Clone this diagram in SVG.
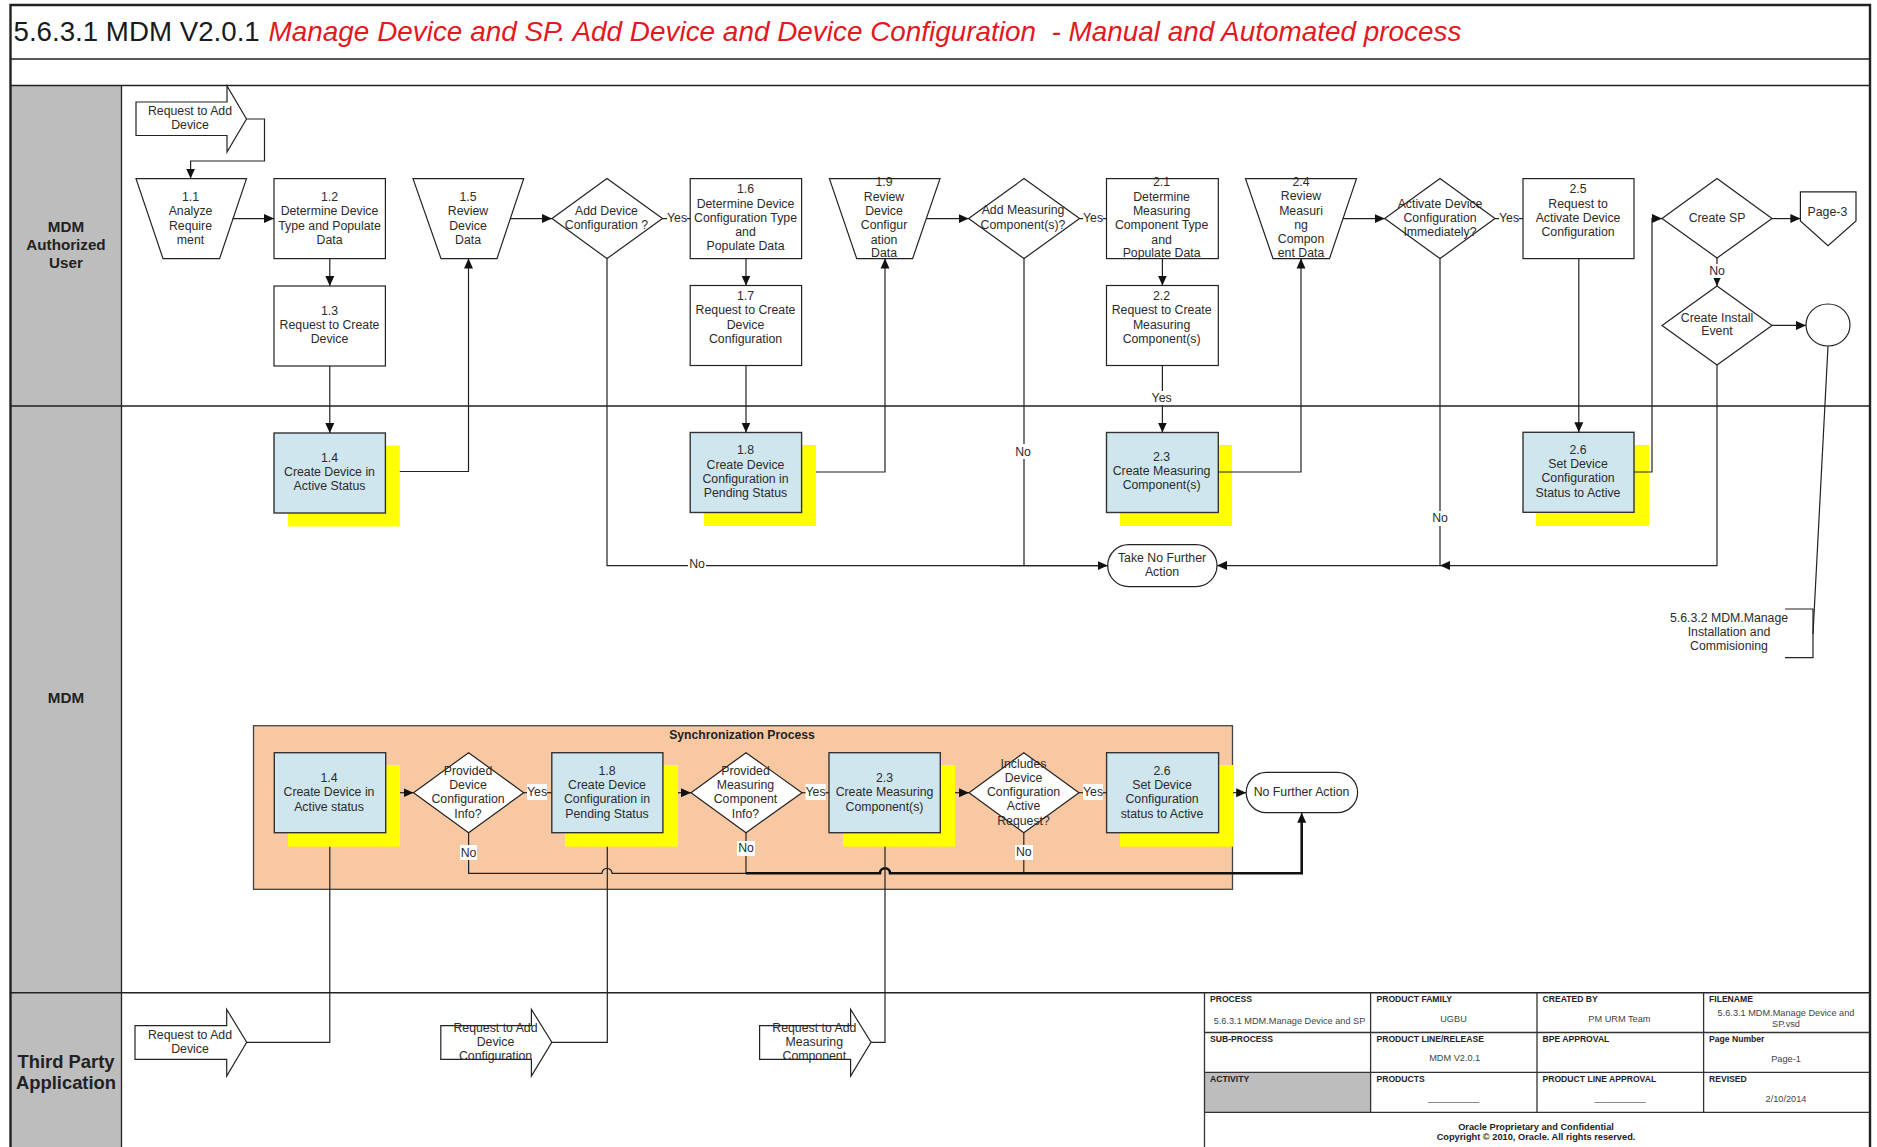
<svg xmlns="http://www.w3.org/2000/svg" width="1877" height="1147" viewBox="0 0 1877 1147">
<style>
text{font-family:"Liberation Sans",Arial,sans-serif;fill:#2b2b2b;font-size:12.3px;text-anchor:middle}
.b{fill:#fff;stroke:#222;stroke-width:1.2}
.act{fill:#cfe6ee;stroke:#333;stroke-width:1.4}
.sh{fill:#ff0;stroke:none}
.c{fill:none;stroke:#222;stroke-width:1.2}
.a{marker-end:url(#ah)}
.t{stroke-width:2.6;stroke:#111}
.lane{fill:#bdbdbd;stroke:none}
.bl{font-weight:bold;font-size:15.2px;fill:#222}
.tb{font-weight:bold;font-size:8.6px;text-anchor:start;fill:#222}
.tv{font-size:9.2px;fill:#444}
.tc{font-weight:bold;font-size:9.25px;fill:#222}
.lb{fill:#fff;stroke:none}
.g{stroke:#222;stroke-width:1.3;fill:none}
</style>
<defs>
<marker id="ah" markerUnits="userSpaceOnUse" markerWidth="11" markerHeight="10" refX="10" refY="5" orient="auto"><path d="M0,0.5 L10,5 L0,9.5 Z" fill="#111"/></marker>
</defs>
<rect width="1877" height="1147" fill="#fff"/>
<g id="frame">
<rect class="lane" x="10.5" y="85.5" width="111" height="1062"/>
<path class="g" d="M121.5,85.5V1147"/>
<path class="g" style="stroke-width:1.6" d="M10.5,59H1870M10.5,85.5H1870M10.5,406H1870M10.5,992.7H1870"/>
<path class="g" style="stroke-width:2.4" d="M10.5,1147V5H1870V1147"/>
<text id="title" x="13.5" y="40.5" xml:space="preserve" style="font-size:27.7px;text-anchor:start;fill:#1a1a1a">5.6.3.1 MDM V2.0.1<tspan x="268.6" style="font-style:italic;fill:#e2191f;font-size:27.9px">Manage Device and SP. Add Device and Device Configuration  - Manual and Automated process</tspan></text>
<text class="bl" x="66" y="232">MDM</text><text class="bl" x="66" y="250">Authorized</text><text class="bl" x="66" y="268">User</text>
<text class="bl" x="66" y="703">MDM</text>
<text class="bl" style="font-size:18.4px" x="66" y="1068">Third Party</text><text class="bl" style="font-size:18.4px" x="66" y="1088.5">Application</text>
</g>
<g id="sync-box">
<rect x="253.5" y="725.7" width="979" height="163.6" fill="#f8c8a2" stroke="#444" stroke-width="1.3"/>
<text x="742" y="739" style="font-weight:bold;font-size:12.2px;fill:#222">Synchronization Process</text>
</g>
<g id="start-request"><path class="b" d="M136,102H227V86L246.5,119L227,152V135.5H136Z"/><text x="190" y="115">Request to Add</text><text x="190" y="129">Device</text></g>
<g id="n1-1"><path class="b" d="M136,178.6H246.5L219.6,258.6H163Z"/><text x="190.5" y="200.8">1.1</text><text x="190.5" y="215">Analyze</text><text x="190.5" y="229.5">Require</text><text x="190.5" y="244">ment</text></g>
<g id="n1-2"><rect class="b" x="274" y="178.6" width="111.4" height="80"/><text x="329.5" y="200.8">1.2</text><text x="329.5" y="215">Determine Device</text><text x="329.5" y="229.5">Type and Populate</text><text x="329.5" y="244">Data</text></g>
<g id="n1-3"><rect class="b" x="274" y="286" width="111.4" height="80"/><text x="329.5" y="315">1.3</text><text x="329.5" y="329">Request to Create</text><text x="329.5" y="343.3">Device</text></g>
<g id="n1-4"><rect class="sh" x="288" y="445.5" width="111.8" height="81"/><rect class="act" x="274" y="433" width="111.4" height="80"/><text x="329.5" y="462">1.4</text><text x="329.5" y="476">Create Device in</text><text x="329.5" y="490.2">Active Status</text></g>
<g id="n1-5"><path class="b" d="M413,178.6H523.7L497,258.6H441Z"/><text x="468" y="200.8">1.5</text><text x="468" y="215">Review</text><text x="468" y="229.5">Device</text><text x="468" y="244">Data</text></g>
<g id="d-add-config"><path class="b" d="M607,178.6L662.5,218.6L607,258.6L552,218.6Z"/><text x="606.5" y="215">Add Device</text><text x="606.5" y="229">Configuration ?</text></g>
<g id="n1-6"><rect class="b" x="690.2" y="178.6" width="111.4" height="80"/><text x="745.5" y="193.3">1.6</text><text x="745.5" y="208">Determine Device</text><text x="745.5" y="222">Configuration Type</text><text x="745.5" y="236.3">and</text><text x="745.5" y="250.3">Populate Data</text></g>
<g id="n1-7"><rect class="b" x="690.2" y="285.5" width="111.4" height="80"/><text x="745.5" y="299.7">1.7</text><text x="745.5" y="314.3">Request to Create</text><text x="745.5" y="328.8">Device</text><text x="745.5" y="343">Configuration</text></g>
<g id="n1-8"><rect class="sh" x="704" y="445" width="112" height="81"/><rect class="act" x="690.2" y="432.5" width="111.4" height="80"/><text x="745.5" y="454">1.8</text><text x="745.5" y="468.5">Create Device</text><text x="745.5" y="482.7">Configuration in</text><text x="745.5" y="496.8">Pending Status</text></g>
<g id="n1-9"><path class="b" d="M829.4,178.6H940L912.6,258.6H856.7Z"/><text x="884" y="186">1.9</text><text x="884" y="200.6">Review</text><text x="884" y="214.8">Device</text><text x="884" y="229">Configur</text><text x="884" y="243.5">ation</text><text x="884" y="257.3">Data</text></g>
<g id="d-add-measuring"><path class="b" d="M1024,178.6L1079.6,218.6L1024,258.6L968.6,218.6Z"/><text x="1023" y="214.3">Add Measuring</text><text x="1023" y="229">Component(s)?</text></g>
<g id="n2-1"><rect class="b" x="1106.5" y="178.6" width="111.8" height="80"/><text x="1161.6" y="186">2.1</text><text x="1161.6" y="200.6">Determine</text><text x="1161.6" y="214.8">Measuring</text><text x="1161.6" y="229">Component Type</text><text x="1161.6" y="243.5">and</text><text x="1161.6" y="257.3">Populate Data</text></g>
<g id="n2-2"><rect class="b" x="1106.5" y="285.5" width="111.8" height="80"/><text x="1161.6" y="299.7">2.2</text><text x="1161.6" y="314.3">Request to Create</text><text x="1161.6" y="328.8">Measuring</text><text x="1161.6" y="343">Component(s)</text></g>
<g id="n2-3"><rect class="sh" x="1120" y="445" width="112" height="81"/><rect class="act" x="1106.5" y="432.5" width="111.8" height="80"/><text x="1161.6" y="461.3">2.3</text><text x="1161.6" y="475.3">Create Measuring</text><text x="1161.6" y="489.3">Component(s)</text></g>
<g id="n2-4"><path class="b" d="M1245.5,178.6H1356.5L1329.5,258.6H1273Z"/><text x="1301" y="185.8">2.4</text><text x="1301" y="200.3">Review</text><text x="1301" y="214.9">Measuri</text><text x="1301" y="229.1">ng</text><text x="1301" y="243.3">Compon</text><text x="1301" y="257.3">ent Data</text></g>
<g id="d-activate"><path class="b" d="M1440,178.6L1495,218.6L1440,258.6L1384.7,218.6Z"/><text x="1440" y="207.6">Activate Device</text><text x="1440" y="221.8">Configuration</text><text x="1440" y="235.9">Immediately?</text></g>
<g id="n2-5"><rect class="b" x="1523" y="178.6" width="111" height="80"/><text x="1578" y="193.1">2.5</text><text x="1578" y="207.6">Request to</text><text x="1578" y="221.8">Activate Device</text><text x="1578" y="235.9">Configuration</text></g>
<g id="n2-6"><rect class="sh" x="1536" y="445" width="113" height="81"/><rect class="act" x="1523" y="432.3" width="111" height="80"/><text x="1578" y="453.7">2.6</text><text x="1578" y="468.3">Set Device</text><text x="1578" y="482.3">Configuration</text><text x="1578" y="496.9">Status to Active</text></g>
<g id="d-create-sp"><path class="b" d="M1717,178.6L1772,218.6L1717,258L1662,218.6Z"/><text x="1717" y="221.8">Create SP</text></g>
<g id="page-3"><path class="b" d="M1800.4,191.8H1856V221L1828,245.8L1800.4,221Z"/><text x="1827.4" y="215.7">Page-3</text></g>
<g id="d-install"><path class="b" d="M1717,286L1772,325.4L1717,365L1662,325.4Z"/><text x="1717" y="321.7">Create Install</text><text x="1717" y="335.3">Event</text></g>
<g id="connector-circle"><ellipse class="b" cx="1828" cy="325" rx="22" ry="21"/></g>
<g id="annotation"><text x="1729" y="622.1">5.6.3.2 MDM.Manage</text><text x="1729" y="636.3">Installation and</text><text x="1729" y="650.3">Commisioning</text><path class="c" d="M1785,609H1813V657.6H1785"/></g>
<g id="take-no-further"><rect class="b" x="1107.7" y="544.6" width="109.3" height="42" rx="21" ry="21"/><text x="1162" y="561.9">Take No Further</text><text x="1162" y="576.3">Action</text></g>
<g id="s1-4"><rect class="sh" x="288" y="765" width="112" height="81.7"/><rect class="act" x="274.3" y="752.7" width="111.4" height="80"/><text x="329" y="782">1.4</text><text x="329" y="796">Create Device in</text><text x="329" y="810.6">Active status</text></g>
<g id="s-d1"><path class="b" d="M468.6,752.7L523.7,792.7L468.6,832.7L413.5,792.7Z"/><text x="468" y="775">Provided</text><text x="468" y="789">Device</text><text x="468" y="803.3">Configuration</text><text x="468" y="817.6">Info?</text></g>
<g id="s1-8"><rect class="sh" x="565" y="765" width="113" height="81.7"/><rect class="act" x="551.8" y="752.7" width="111.1" height="80"/><text x="607" y="775">1.8</text><text x="607" y="789">Create Device</text><text x="607" y="803.3">Configuration in</text><text x="607" y="817.6">Pending Status</text></g>
<g id="s-d2"><path class="b" d="M746,752.7L802,792.7L746,832.7L691,792.7Z"/><text x="745.5" y="775">Provided</text><text x="745.5" y="789">Measuring</text><text x="745.5" y="803.3">Component</text><text x="745.5" y="817.6">Info?</text></g>
<g id="s2-3"><rect class="sh" x="843" y="765" width="112" height="81.7"/><rect class="act" x="829" y="752.7" width="111.3" height="80"/><text x="884.5" y="782">2.3</text><text x="884.5" y="796">Create Measuring</text><text x="884.5" y="810.6">Component(s)</text></g>
<g id="s-d3"><path class="b" d="M1023.8,752.7L1079,792.7L1023.8,832.7L969,792.7Z"/><text x="1023.5" y="767.6">Includes</text><text x="1023.5" y="782">Device</text><text x="1023.5" y="796.3">Configuration</text><text x="1023.5" y="810.3">Active</text><text x="1023.5" y="824.6">Request?</text></g>
<g id="s2-6"><rect class="sh" x="1120" y="765" width="113" height="81.7"/><rect class="act" x="1106.6" y="752.7" width="112" height="80"/><text x="1162" y="775">2.6</text><text x="1162" y="789">Set Device</text><text x="1162" y="803.3">Configuration</text><text x="1162" y="817.6">status to Active</text></g>
<g id="no-further"><rect class="b" x="1246.2" y="772.3" width="111.4" height="40.4" rx="20.2" ry="20.2"/><text x="1301.5" y="796.3">No Further Action</text></g>
<g id="req-device"><path class="b" d="M135,1025.7H226.7V1009.3L246.7,1042.3L226.7,1076V1059.3H135Z"/><text x="190" y="1038.6">Request to Add</text><text x="190" y="1053.3">Device</text></g>
<g id="req-config"><path class="b" d="M440.8,1025.7H531.4V1009.3L551.8,1042.3L531.4,1076V1059.3H440.8Z"/><text x="495.5" y="1031.6">Request to Add</text><text x="495.5" y="1045.6">Device</text><text x="495.5" y="1060.3">Configuration</text></g>
<g id="req-measuring"><path class="b" d="M759.6,1025.7H850.6V1009.3L871,1042.3L850.6,1076V1059.3H759.6Z"/><text x="814.3" y="1031.6">Request to Add</text><text x="814.3" y="1045.6">Measuring</text><text x="814.3" y="1060.3">Component</text></g>
<g id="title-block">
<rect class="lane" x="1204.5" y="1072.3" width="166" height="40"/>
<path class="g" style="stroke:#333" d="M1204.5,992.7V1147M1204.5,1032.5H1870M1204.5,1072.3H1870M1204.5,1112.3H1870M1370.6,992.7V1112.3M1537,992.7V1112.3M1703.6,992.7V1112.3"/>
<text class="tb" x="1210" y="1001.8">PROCESS</text><text class="tb" x="1376.5" y="1001.8">PRODUCT FAMILY</text><text class="tb" x="1542.5" y="1001.8">CREATED BY</text><text class="tb" x="1709" y="1001.8">FILENAME</text>
<text class="tb" x="1210" y="1041.8">SUB-PROCESS</text><text class="tb" x="1376.5" y="1041.8">PRODUCT LINE/RELEASE</text><text class="tb" x="1542.5" y="1041.8">BPE APPROVAL</text><text class="tb" x="1709" y="1041.8">Page Number</text>
<text class="tb" x="1210" y="1081.8">ACTIVITY</text><text class="tb" x="1376.5" y="1081.8">PRODUCTS</text><text class="tb" x="1542.5" y="1081.8">PRODUCT LINE APPROVAL</text><text class="tb" x="1709" y="1081.8">REVISED</text>
<text class="tv" x="1289.5" y="1023.8">5.6.3.1 MDM.Manage Device and SP</text><text class="tv" x="1453.5" y="1021.8">UGBU</text><text class="tv" x="1619.4" y="1021.8">PM URM Team</text>
<text class="tv" x="1786" y="1016.4">5.6.3.1 MDM.Manage Device and</text><text class="tv" x="1786" y="1027.4">SP.vsd</text>
<text class="tv" x="1454.7" y="1061.1">MDM V2.0.1</text><text class="tv" x="1786" y="1062.1">Page-1</text>
<text class="tv" x="1453.5" y="1101">__________</text><text class="tv" x="1620" y="1101">__________</text><text class="tv" x="1786" y="1102.4">2/10/2014</text>
<text class="tc" x="1536" y="1129.7">Oracle Proprietary and Confidential</text><text class="tc" x="1536" y="1140.3">Copyright © 2010, Oracle. All rights reserved.</text>
</g>
<g id="connectors">
<path class="c a" d="M246.5,119H264.5V161H190.6V178.6"/>
<path class="c a" d="M232.6,218.6H274"/>
<path class="c a" d="M329.8,258.6V286"/>
<path class="c a" d="M329.8,366V433"/>
<path class="c a" d="M399.8,471.5H468.5V258.6"/>
<path class="c a" d="M510,218.6H552"/>
<path class="c" d="M662.5,218.6H690.2"/>
<path class="c" d="M607,258.6V565.6H1107.7"/><path class="c a" d="M1000,565.6H1107.7"/>
<path class="c a" d="M746,258.6V285.5"/>
<path class="c a" d="M746,365.5V432.5"/>
<path class="c a" d="M816,472H885V258.6"/>
<path class="c a" d="M927,218.6H968.6"/>
<path class="c" d="M1079.6,218.6H1106.5"/>
<path class="c" d="M1024,258.6V565.6"/>
<path class="c a" d="M1162.4,258.6V285.5"/>
<path class="c a" d="M1162.4,365.5V432.5"/>
<path class="c a" d="M1218.3,472H1301V258.6"/>
<path class="c a" d="M1342.8,218.6H1384.7"/>
<path class="c" d="M1495,218.6H1523"/>
<path class="c" d="M1440,258.6V565.6"/>
<path class="c a" d="M1578.8,258.6V432.3"/>
<path class="c a" d="M1634,472H1652V218.6H1662"/>
<path class="c a" d="M1772,218.6H1800.4"/>
<path class="c a" d="M1717,258V286"/>
<path class="c a" d="M1772,325.4H1806"/>
<path class="c a" d="M1717,365V565.6H1440"/>
<path class="c a" d="M1440,565.6H1217"/>
<path class="c" d="M1828,346L1813,634"/>
<path class="c a" d="M400,792.7H413.5"/>
<path class="c" d="M523.7,792.7H551.8"/>
<path class="c a" d="M678,792.7H691"/>
<path class="c" d="M802,792.7H829"/>
<path class="c a" d="M955,792.7H969"/>
<path class="c" d="M1079,792.7H1106.6"/>
<path class="c a" d="M1233,792.7H1246.2"/>
<path class="c" d="M468.6,832.7V873.3H602a5,5 0 0 1 10,0H746"/>
<path class="c" d="M746,832.7V873.3"/>
<path class="c" d="M1023.8,832.7V873.3"/>
<path class="c t" d="M746,873.3H880a5,5 0 0 1 10,0H1301.7V822"/>
<path class="c a" style="stroke-width:1.5" d="M1301.7,825V812.7"/>
<path class="c" d="M329.8,846.7V1042.3H246.7"/>
<path class="c" d="M607.3,846.7V1042.3H551.8"/>
<path class="c" d="M885,846.7V1042.3H871"/>
</g>
<g id="connector-labels">
<rect class="lb" x="667" y="209" width="20" height="17"/><text x="677" y="221.5">Yes</text>
<rect class="lb" x="1083" y="209" width="20" height="17"/><text x="1093" y="221.5">Yes</text>
<rect class="lb" x="1499" y="209" width="20" height="17"/><text x="1509" y="221.5">Yes</text>
<rect class="lb" x="1150" y="391" width="24" height="14"/><text x="1161.6" y="402">Yes</text>
<rect class="lb" x="688" y="558" width="18" height="14"/><text x="697" y="568">No</text>
<rect class="lb" x="1014" y="444" width="18" height="15"/><text x="1023" y="455.8">No</text>
<rect class="lb" x="1431" y="511" width="18" height="15"/><text x="1440" y="522.3">No</text>
<rect class="lb" x="1708" y="264" width="18" height="14"/><text x="1717" y="275">No</text>
<rect class="lb" x="527" y="784" width="20" height="16"/><text x="537" y="796">Yes</text>
<rect class="lb" x="805.5" y="784" width="20" height="16"/><text x="815.5" y="796">Yes</text>
<rect class="lb" x="1083" y="784" width="20" height="16"/><text x="1093" y="796">Yes</text>
<rect class="lb" x="460" y="845" width="17" height="15"/><text x="468.6" y="856.6">No</text>
<rect class="lb" x="737" y="841" width="18" height="15"/><text x="746" y="852.3">No</text>
<rect class="lb" x="1015" y="845" width="18" height="15"/><text x="1023.8" y="855.6">No</text>
</g>
</svg>
